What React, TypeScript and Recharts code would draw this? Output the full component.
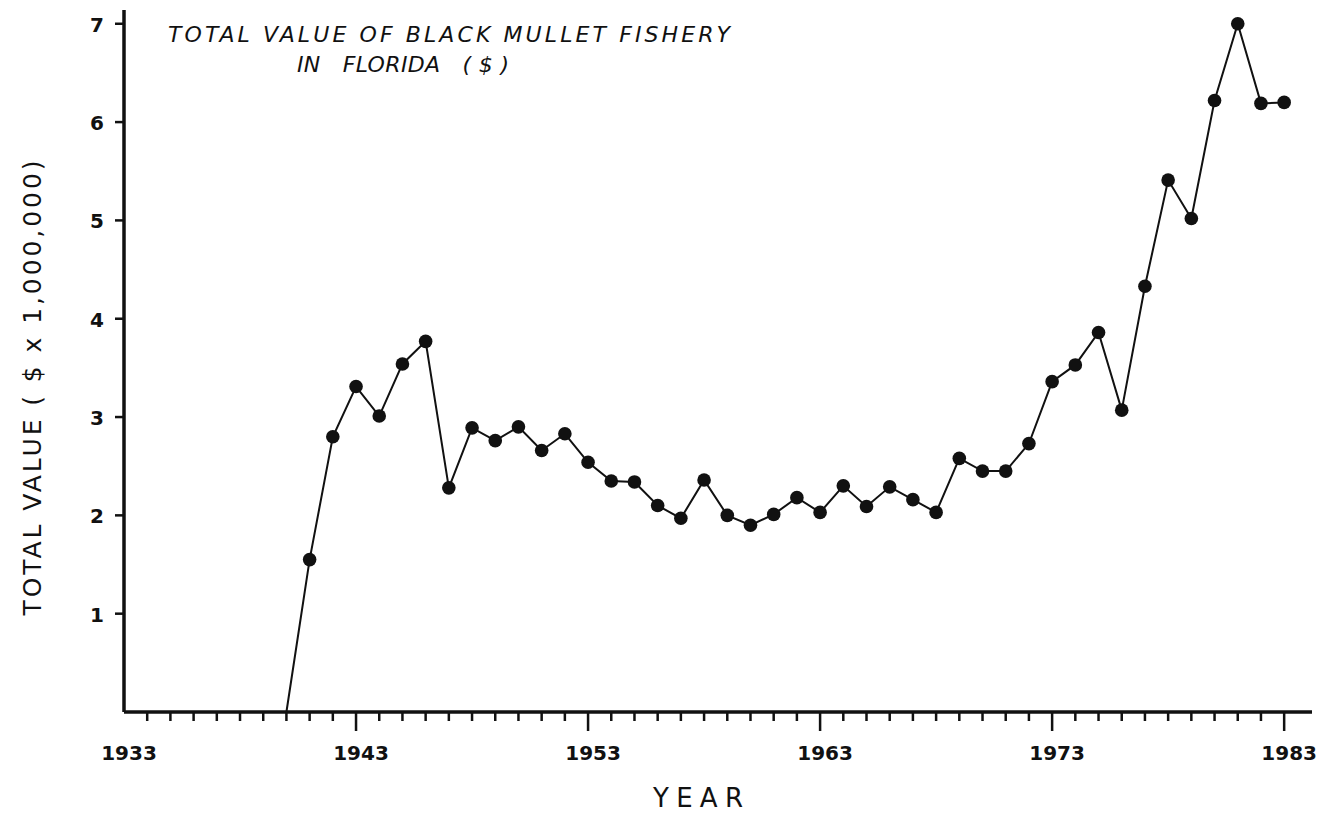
import { Line, LineChart, XAxis, YAxis } from 'recharts';

const years = [
  1940, 1941, 1942, 1943, 1944, 1945, 1946, 1947, 1948, 1949, 1950, 1951, 1952, 1953, 1954,
  1955, 1956, 1957, 1958, 1959, 1960, 1961, 1962, 1963, 1964, 1965, 1966, 1967, 1968, 1969,
  1970, 1971, 1972, 1973, 1974, 1975, 1976, 1977, 1978, 1979, 1980, 1981, 1982, 1983,
];

// total value, $ x 1,000,000
const totalValue = [
  0, 1.55, 2.8, 3.31, 3.01, 3.54, 3.77, 2.28, 2.89, 2.76, 2.9, 2.66, 2.83, 2.54, 2.35,
  2.34, 2.1, 1.97, 2.36, 2.0, 1.9, 2.01, 2.18, 2.03, 2.3, 2.09, 2.29, 2.16, 2.03, 2.58,
  2.45, 2.45, 2.73, 3.36, 3.53, 3.86, 3.07, 4.33, 5.41, 5.02, 6.22, 7.0, 6.19, 6.2,
];

const majorYears = [1933, 1943, 1953, 1963, 1973, 1983];
const yTicks = [1, 2, 3, 4, 5, 6, 7];

const data = years.map((year, i) => ({ year, value: totalValue[i] }));
const yearTicks = Array.from({ length: 1983 - 1933 + 1 }, (_, i) => 1933 + i);

const ink = '#111';
const labelFont = '"DejaVu Sans", "Liberation Sans", sans-serif';

function YearTick({ x, y, payload }: { x?: number; y?: number; payload?: { value: number } }) {
  const px = x ?? 0;
  const py = y ?? 0;
  const year = payload?.value ?? 0;
  const major = majorYears.includes(year);
  return (
    <g>
      {year !== 1933 ? (
        <line x1={px} y1={py} x2={px} y2={py + (major ? 19 : 9)} stroke={ink} strokeWidth={2.5} />
      ) : null}
      {major ? (
        <text x={px + 5} y={py + 48} textAnchor="middle" fontFamily={labelFont} fontWeight={700} fontSize={20} fill={ink}>
          {year}
        </text>
      ) : null}
    </g>
  );
}

function ValueTick({ x, y, payload }: { x?: number; y?: number; payload?: { value: number } }) {
  const px = x ?? 0;
  const py = y ?? 0;
  return (
    <g>
      <line x1={px - 9} y1={py} x2={px} y2={py} stroke={ink} strokeWidth={2.5} />
      <text x={px - 20} y={py + 8} textAnchor="end" fontFamily={labelFont} fontWeight={700} fontSize={20} fill={ink}>
        {payload?.value}
      </text>
    </g>
  );
}

function renderDot(props: { cx?: number; cy?: number; index?: number; payload?: { value: number } }) {
  const { cx = 0, cy = 0, index, payload } = props;
  if (!payload || payload.value === 0) return <g key={`dot-${index}`} />;
  return <circle key={`dot-${index}`} cx={cx} cy={cy} r={6.8} fill={ink} stroke="none" />;
}

export default function App() {
  return (
    <div style={{ position: 'absolute', left: 0, top: 0, width: 1323, height: 814, background: '#fff' }}>
      <LineChart width={1323} height={814} data={data} margin={{ top: 10, right: 11, bottom: 0, left: 0 }}>
        <XAxis
          type="number"
          dataKey="year"
          domain={[1933, 1984.2]}
          ticks={yearTicks}
          interval={0}
          tickSize={0}
          tickMargin={0}
          tickLine={false}
          axisLine={{ stroke: ink, strokeWidth: 3.5 }}
          tick={<YearTick />}
          height={102}
        />
        <YAxis
          type="number"
          dataKey="value"
          domain={[0, 7.14]}
          ticks={yTicks}
          interval={0}
          tickSize={0}
          tickMargin={0}
          tickLine={false}
          axisLine={{ stroke: ink, strokeWidth: 3.5 }}
          tick={<ValueTick />}
          width={124}
        />
        <Line
          type="linear"
          dataKey="value"
          stroke={ink}
          strokeWidth={2}
          dot={renderDot}
          activeDot={false}
          isAnimationActive={false}
        />
      </LineChart>

      <svg
        width={1323}
        height={814}
        style={{ position: 'absolute', left: 0, top: 0, pointerEvents: 'none' }}
        fontFamily={labelFont}
        fill={ink}
      >
        <text x={168} y={42} fontSize={22} fontStyle="italic" textLength={562} lengthAdjust="spacing">
          TOTAL VALUE OF BLACK MULLET FISHERY
        </text>
        <text x={297} y={72} fontSize={22} fontStyle="italic" textLength={212} lengthAdjust="spacing" xmlSpace="preserve">
          IN   FLORIDA   ( $ )
        </text>
        <text
          x={0}
          y={0}
          transform="translate(41 388) rotate(-90)"
          textAnchor="middle"
          fontSize={25}
          textLength={455}
          lengthAdjust="spacing"
        >
          TOTAL VALUE ( $ x 1,000,000)
        </text>
        <text x={653} y={807} fontSize={26} textLength={90} lengthAdjust="spacing">
          YEAR
        </text>
      </svg>
    </div>
  );
}
